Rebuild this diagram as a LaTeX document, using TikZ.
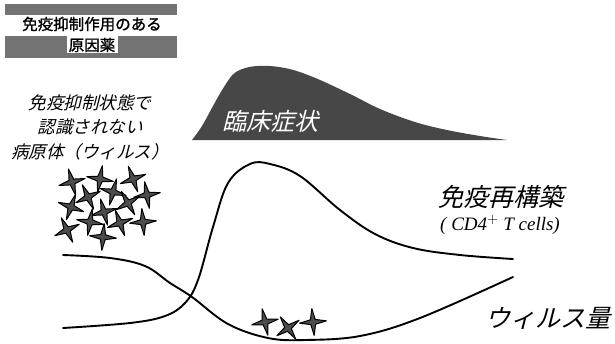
\documentclass[tikz,border=0pt]{standalone}
\usepackage{fontspec}
\newfontfamily\jp[FakeBold=1.2]{Noto Sans CJK JP}
\newfontfamily\jpsl[FakeSlant=0.25]{Noto Sans CJK JP}
\newfontfamily\lserif{Liberation Serif}
\tikzset{
  starstyle/.style={fill=black!70, draw=black, line width=1pt, line join=round},
  vstar/.pic={\filldraw[starstyle] (0:13.5) -- (45:3.4) -- (90:13.5) -- (135:3.4) -- (180:13.5) -- (225:3.4) -- (270:13.5) -- (315:3.4) -- cycle;},
  curve/.style={draw=black, line width=1.9pt, line cap=round},
  boxgray/.style={fill=black!55},
  symgray/.style={fill=black!72},
  labsl/.style={font=\jpsl\fontsize{17.5}{21}\selectfont, align=center, inner sep=0pt},
  biglab/.style={font=\jpsl\fontsize{25}{28}\selectfont, inner sep=0pt},
}
\begin{document}
\begin{tikzpicture}[x=1pt, y=-1pt]
\useasboundingbox (0,0) rectangle (615,343);
% top-left box
\fill[boxgray] (5,4) rectangle (177,58);
\fill[white] (5,15) rectangle (177,36);
\fill[white] (67,36) rectangle (118,53);
\node[font=\jp\fontsize{15.5}{17}\selectfont, inner sep=0pt] (drugA) at (92,24) {免疫抑制作用のある};
\node[font=\jp\fontsize{15.5}{17}\selectfont, inner sep=0pt] (drugB) at (92,45) {原因薬};
% clinical symptoms
\fill[symgray] plot[smooth, tension=0.6] coordinates {(192,140) (202,126) (213,106) (224,87) (236,72) (257,66) (285,68) (313,77) (350,94) (380,109) (415,122) (447,130) (480,136) (507,140)} -- cycle;
\node[biglab, text=white, font=\jpsl\fontsize{24}{26}\selectfont] (clin) at (270,121) {臨床症状};
% left label
\node[labsl] (patho) at (90,127) {免疫抑制状態で\\[3.5pt]認識されない\\[3.5pt]病原体（ウィルス）};
% stars cluster
\foreach \x/\y/\r in {72/182/15, 100/179/-10, 133/179/20, 88/197/25, 113/192/-15, 147/195/10, 71/207/-20, 104/212/15, 128/203/30, 90/222/-10, 120/223/20, 143/222/5, 67/230/25, 103/237/-5}
  \pic[rotate=\r] at (\x,\y) {vstar};
% bottom stars
\pic[rotate=12] at (265,322) {vstar};
\pic[rotate=35] at (288,328) {vstar};
\pic[rotate=5] at (313,322) {vstar};
% virus load curve
\draw[curve] plot[smooth, tension=0.6] coordinates {(63,255) (110,258) (145,266) (170,283) (192,297) (228,324) (268,338) (305,340) (360,336) (420,318) (513,277)};
% immune curve
\draw[curve] plot[smooth, tension=0.6] coordinates {(63,328) (130,323) (165,316) (185,303) (198,280) (213,227) (228,183) (250,164) (270,164) (300,176) (340,210) (375,234) (413,248) (460,255) (513,259)};
% right labels
\node[biglab] (immune) at (501,197) {免疫再構築};
\node[font=\lserif\itshape\fontsize{19}{21}\selectfont, inner sep=0pt] (cd4) at (500,225) {( CD4$^{+}$ T cells)};
\node[biglab] (virus) at (548,318) {ウィルス量};
\end{tikzpicture}
\end{document}
